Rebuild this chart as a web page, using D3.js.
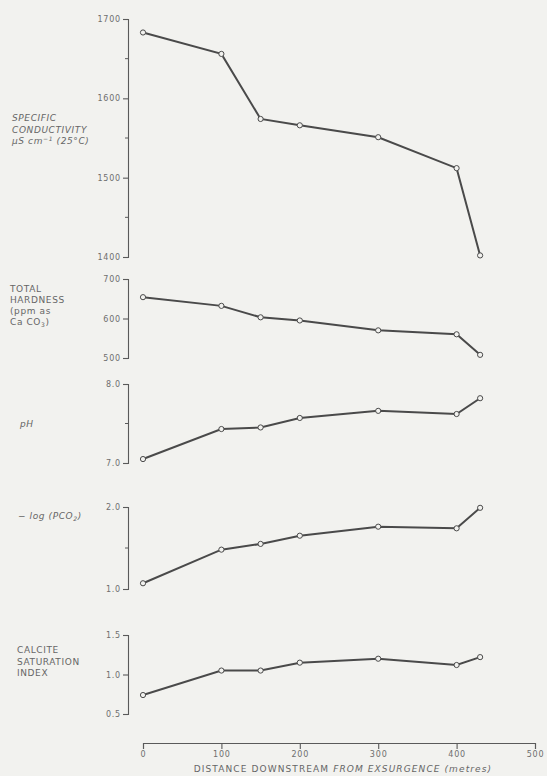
<!DOCTYPE html>
<html>
<head>
<meta charset="utf-8">
<script src="https://cdn.jsdelivr.net/npm/d3@7"></script>
<style>
  html, body { margin: 0; padding: 0; background: #f2f2ef; }
  svg { display: block; }
  .tick text { font-family: "DejaVu Sans", sans-serif; font-size: 8px; fill: #6e6e6e; letter-spacing: 0.8px; }
  .label { font-family: "DejaVu Sans", sans-serif; font-size: 9px; fill: #666; letter-spacing: 0.6px; }
</style>
</head>
<body>
<svg id="chart"></svg>
<script>
// distance downstream (m) and the five measured series
const distance = [0, 100, 150, 200, 300, 400, 430];
const conductivity = [1683, 1656, 1574, 1566, 1551, 1512, 1402];
const hardness = [654, 632, 603, 595, 570, 560, 508];
const ph = [7.05, 7.43, 7.45, 7.57, 7.66, 7.62, 7.82];
const pco2 = [1.07, 1.48, 1.55, 1.65, 1.76, 1.74, 1.99];
const calciteSI = [0.74, 1.05, 1.05, 1.15, 1.20, 1.12, 1.22];

const xTicks = [0, 100, 200, 300, 400, 500];

const width = 547, height = 776;
const axisX = 128;

const svg = d3.select("#chart")
  .attr("width", width)
  .attr("height", height);

const x = d3.scaleLinear().domain([0, 500]).range([143, 535]);

// one entry per stacked panel
const panels = [
  { values: conductivity, domain: [1400, 1700], range: [257, 19],
    major: [1400, 1500, 1600, 1700], minor: [1450, 1550, 1650], fmt: d3.format("d") },
  { values: hardness, domain: [500, 700], range: [358, 279],
    major: [500, 600, 700], minor: [], fmt: d3.format("d") },
  { values: ph, domain: [7, 8], range: [463, 384],
    major: [7, 8], minor: [7.5], fmt: d3.format(".1f") },
  { values: pco2, domain: [1, 2], range: [589, 507],
    major: [1, 2], minor: [1.5], fmt: d3.format(".1f") },
  { values: calciteSI, domain: [0.5, 1.5], range: [714, 635],
    major: [0.5, 1, 1.5], minor: [], fmt: d3.format(".1f") }
];

panels.forEach(p => {
  const y = d3.scaleLinear().domain(p.domain).range(p.range);

  const g = svg.append("g").attr("transform", `translate(${axisX},0)`);
  g.call(d3.axisLeft(y).tickValues(p.major).tickFormat(p.fmt).tickSizeOuter(0).tickSize(5).tickPadding(2));
  g.selectAll(".domain, .tick line").attr("stroke", "#5a5a5a").attr("stroke-width", 1.1);

  // small minor ticks
  g.selectAll("line.minor")
    .data(p.minor)
    .enter().append("line")
    .attr("class", "minor")
    .attr("x1", -3).attr("x2", 0)
    .attr("y1", d => y(d)).attr("y2", d => y(d))
    .attr("stroke", "#5a5a5a");

  const pts = distance.map((d, i) => [d, p.values[i]]);
  const line = d3.line().x(d => x(d[0])).y(d => y(d[1]));

  svg.append("path")
    .datum(pts)
    .attr("d", line)
    .attr("fill", "none")
    .attr("stroke", "#4a4a4a")
    .attr("stroke-width", 2);

  svg.append("g").selectAll("circle")
    .data(pts)
    .enter().append("circle")
    .attr("cx", d => x(d[0]))
    .attr("cy", d => y(d[1]))
    .attr("r", 2.6)
    .attr("fill", "#f2f2ef")
    .attr("stroke", "#4a4a4a")
    .attr("stroke-width", 1);
});

// x axis
const xg = svg.append("g").attr("transform", "translate(0,743)");
xg.call(d3.axisBottom(x).tickValues(xTicks).tickSize(6).tickSizeOuter(6).tickPadding(2));
xg.selectAll(".domain, .tick line").attr("stroke", "#5a5a5a").attr("stroke-width", 1.1);

// panel labels, one text per line
function label(lines, x0, y0, dy, italic) {
  lines.forEach((s, i) => {
    svg.append("text").attr("class", "label")
      .attr("font-style", italic ? "italic" : "normal")
      .attr("x", x0).attr("y", y0 + i * dy).text(s);
  });
}

label(["SPECIFIC", "CONDUCTIVITY"], 12, 121, 11.5, true);
const mu = svg.append("text").attr("class", "label").attr("font-style", "italic")
  .attr("x", 12).attr("y", 144);
mu.append("tspan").text("µS cm");
mu.append("tspan").attr("dy", -3).attr("font-size", "6px").text("−1");
mu.append("tspan").attr("dy", 3).text(" (25°C)");

label(["TOTAL", "HARDNESS", "(ppm as"], 10, 292, 11, false);
const caco = svg.append("text").attr("class", "label").attr("x", 10).attr("y", 325);
caco.append("tspan").text("Ca CO");
caco.append("tspan").attr("dy", 2).attr("font-size", "6px").text("3");
caco.append("tspan").attr("dy", -2).text(")");

label(["pH"], 20, 427, 0, true);

const lp = svg.append("text").attr("class", "label").attr("font-style", "italic")
  .attr("x", 18).attr("y", 519);
lp.append("tspan").text("− log (PCO");
lp.append("tspan").attr("dy", 2).attr("font-size", "6px").text("2");
lp.append("tspan").attr("dy", -2).text(")");

label(["CALCITE", "SATURATION", "INDEX"], 17, 653, 11.5, false);

const xl = svg.append("text").attr("class", "label")
  .attr("x", x(255)).attr("y", 772).attr("text-anchor", "middle")
  .style("font-size", "9px").style("letter-spacing", "1.1px");
xl.append("tspan").text("DISTANCE DOWNSTREAM ");
xl.append("tspan").attr("font-style", "italic").text("FROM EXSURGENCE (metres)");
</script>
</body>
</html>
